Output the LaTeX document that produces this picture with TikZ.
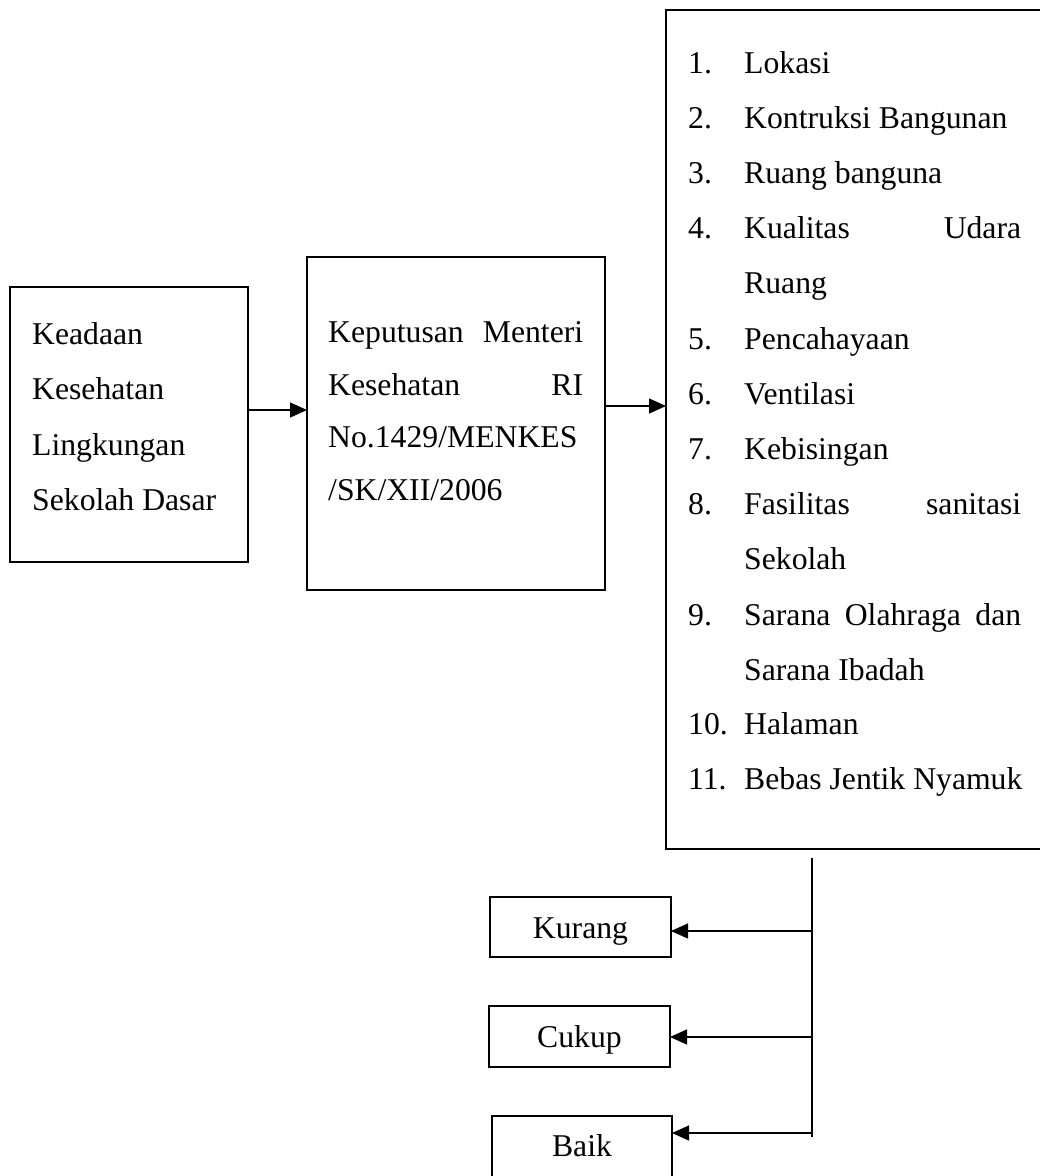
\documentclass[tikz,border=0pt]{standalone}
\usepackage{fontspec}
\setmainfont{Liberation Serif}
\usetikzlibrary{arrows.meta}
\begin{document}
\begin{tikzpicture}[x=1pt,y=-1pt,
  box/.style={draw, line width=2.3pt, inner sep=0pt, outer sep=0pt},
  arr/.style={-{Triangle[length=17pt,width=15pt]}, line width=1.2pt},
  txt/.style={anchor=base west, inner sep=0pt, font=\fontsize{31.7}{38}\selectfont},
  lbl/.style={anchor=base, inner sep=0pt, font=\fontsize{31.7}{38}\selectfont}]
\useasboundingbox (0,0) rectangle (1040,1176);
% boxes
\node[box, minimum width=238, minimum height=275] (b1) at (129,424.5) {};
\node[box, minimum width=298, minimum height=333] (b2) at (456,423.5) {};
\node[box, minimum width=400, minimum height=839] (b3) at (866,429.5) {};
\node[box, minimum width=181, minimum height=60] (k) at (580.5,927) {};
\node[box, minimum width=181, minimum height=61] (c) at (579.5,1036.5) {};
\node[box, minimum width=180, minimum height=70] (bk) at (582,1151) {};
% box 1 text
\node[txt] (t11) at (32,344) {Keadaan};
\node[txt] (t12) at (32,399) {Kesehatan};
\node[txt] (t13) at (32,455) {Lingkungan};
\node[txt] (t14) at (32,510) {Sekolah Dasar};
% box 2 text
\node[txt] (t21) at (328,342) {\hbox to 255pt{Keputusan\hfill Menteri}};
\node[txt] (t22) at (328,395) {\hbox to 255pt{Kesehatan\hfill RI}};
\node[txt] (t23) at (328,447) {No.1429/MENKES};
\node[txt] (t24) at (328,500) {/SK/XII/2006};
% box 3 list
\foreach \n/\t/\y in {1./Lokasi/73, 2./Kontruksi Bangunan/128.2, 3./Ruang banguna/183.4,
  5./Pencahayaan/349, 6./Ventilasi/404.2, 7./Kebisingan/459.4,
  10./Halaman/734.4, 11./Bebas Jentik Nyamuk/789.6}{
  \node[txt] at (688,\y) {\n};
  \node[txt] at (744,\y) {\t};
}
\node[txt] (n4) at (688,238.6) {4.};
\node[txt] (i4) at (744,238.6) {\hbox to 277pt{Kualitas\hfill Udara}};
\node[txt] (i4b) at (744,293.8) {Ruang};
\node[txt] (n8) at (688,514.6) {8.};
\node[txt] (i8) at (744,514.6) {\hbox to 277pt{Fasilitas\hfill sanitasi}};
\node[txt] (i8b) at (744,569.8) {Sekolah};
\node[txt] (n9) at (688,625) {9.};
\node[txt] (i9) at (744,625) {\hbox to 277pt{Sarana\hfill Olahraga\hfill dan}};
\node[txt] (i9b) at (744,680.2) {Sarana Ibadah};
% small box labels
\node[lbl] (kl) at (580.5,938) {Kurang};
\node[lbl] (cl) at (579.5,1047) {Cukup};
\node[lbl] (bl) at (582,1156) {Baik};
% connectors
\draw[arr] (b1.east |- 0,410) -- (b2.west |- 0,410);
\draw[arr] (b2.east |- 0,406) -- (b3.west |- 0,406);
\coordinate (vtop) at (812,858);
\coordinate (vbot) at (812,1137);
\draw[line width=1.2pt] (vtop) -- (vbot);
\coordinate (j1) at (812,931);
\coordinate (j2) at (812,1037);
\coordinate (j3) at (812,1133);
\draw[arr] (j1) -- (k.east |- j1);
\draw[arr] (j2) -- (c.east |- j2);
\draw[arr] (j3) -- (bk.east |- j3);
\end{tikzpicture}
\end{document}
